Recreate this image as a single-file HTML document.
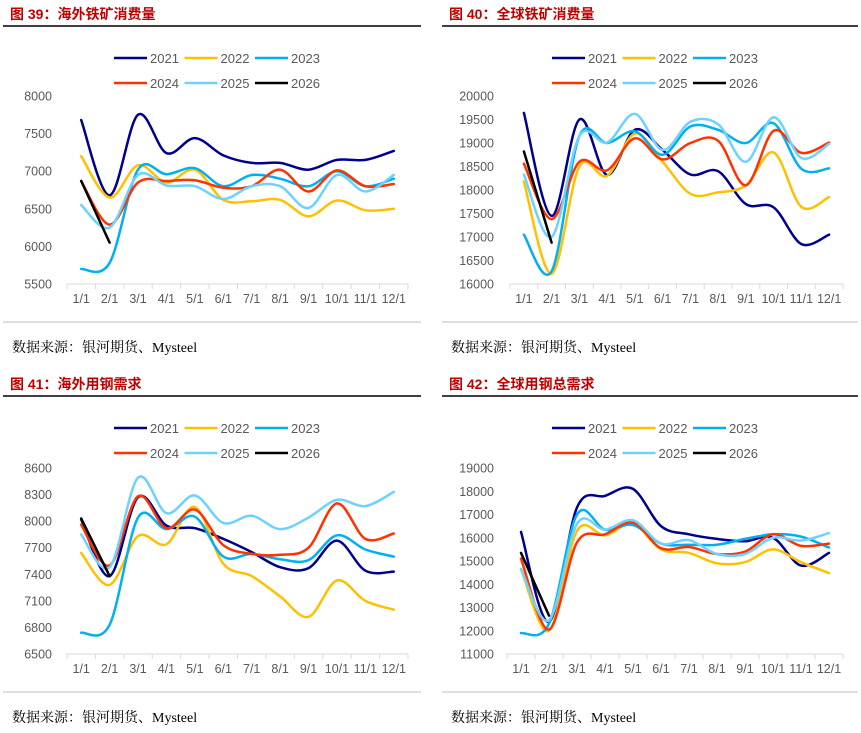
<!DOCTYPE html>
<html><head><meta charset="utf-8"><style>
body{margin:0;background:#fff;}
svg{display:block;font-family:"Liberation Sans","Noto Sans CJK SC",sans-serif;}
</style></head><body>
<svg id="s" width="861" height="733" viewBox="0 0 861 733"></svg>
<script>
const categories=["1/1","2/1","3/1","4/1","5/1","6/1","7/1","8/1","9/1","10/1","11/1","12/1"];
const years=["2021","2022","2023","2024","2025","2026"];
const colors=["#00008E","#FFC000","#00B0F0","#FF3300","#6DD2FF","#000000"];
// Chart 39
const c1Ticks=[5500,6000,6500,7000,7500,8000];
const c1s2021=[7680,6680,7750,7240,7440,7210,7110,7110,7020,7150,7150,7270];
const c1s2022=[7200,6650,7080,6850,7020,6620,6600,6620,6400,6610,6480,6500];
const c1s2023=[5700,5780,7020,6960,7040,6800,6950,6900,6800,7000,6800,6900];
const c1s2024=[6870,6290,6850,6870,6880,6780,6800,7020,6730,7010,6800,6830];
const c1s2025=[6550,6250,6950,6810,6800,6630,6800,6800,6510,6950,6730,6950];
const c1s2026=[6870,6050];
// Chart 40
const c2Ticks=[16000,16500,17000,17500,18000,18500,19000,19500,20000];
const c2s2021=[19640,17450,19500,18320,19280,18850,18330,18400,17700,17630,16850,17050];
const c2s2022=[18180,16220,18500,18300,19200,18600,17920,17950,18100,18800,17640,17850];
const c2s2023=[17050,16270,19150,19000,19250,18750,19350,19280,19000,19420,18450,18460];
const c2s2024=[18560,17380,18600,18420,19100,18650,19000,19050,18100,19260,18790,19010];
const c2s2025=[18330,17000,19150,19010,19620,18850,19450,19400,18600,19550,18680,18980];
const c2s2026=[18820,16880];
// Chart 41
const c3Ticks=[6500,6800,7100,7400,7700,8000,8300,8600];
const c3s2021=[8020,7380,8270,7950,7920,7800,7650,7480,7470,7780,7440,7430];
const c3s2022=[7640,7280,7830,7740,8160,7520,7380,7150,6920,7330,7100,7000];
const c3s2023=[6740,6830,8040,7910,8050,7600,7630,7570,7560,7840,7680,7600];
const c3s2024=[7960,7500,8280,7920,8130,7730,7630,7620,7700,8200,7800,7860];
const c3s2025=[7850,7480,8490,8090,8290,7980,8060,7910,8040,8240,8170,8330];
const c3s2026=[8030,7380];
// Chart 42
const c4Ticks=[11000,12000,13000,14000,15000,16000,17000,18000,19000];
const c4s2021=[16250,12380,17300,17800,18100,16500,16150,15950,15850,16000,14800,15350];
const c4s2022=[14650,12000,16300,16100,16600,15500,15350,14900,14950,15500,14950,14480];
const c4s2023=[11900,12300,17000,16350,16550,15750,15700,15700,15950,16150,16050,15580];
const c4s2024=[15100,12050,15800,16150,16650,15550,15600,15300,15400,16150,15650,15750];
const c4s2025=[14650,12450,16600,16350,16750,15750,15900,15300,15300,16000,15880,16200];
const c4s2026=[15350,12650];

const NS="http://www.w3.org/2000/svg";
const svg=document.getElementById('s');
function mk(tag,attrs,parent,text){const e=document.createElementNS(NS,tag);for(const k in attrs)e.setAttribute(k,attrs[k]);if(text!==undefined)e.textContent=text;(parent||svg).appendChild(e);return e;}

const panels=[
 {title:"图 39：海外铁矿消费量",name:"overseas-ore-consumption",tx:10,ty:19,rx1:3,rx2:421,ry:26,lx:114,ly:58,ylabR:52,x0:67,x1:408,yTop:96,yBot:284,ticks:c1Ticks,series:[c1s2021,c1s2022,c1s2023,c1s2024,c1s2025,c1s2026],sepY:322,srcX:12,srcY:352},
 {title:"图 40：全球铁矿消费量",name:"global-ore-consumption",tx:449,ty:19,rx1:442,rx2:858,ry:26,lx:552,ly:58,ylabR:494,x0:510,x1:843,yTop:96,yBot:284,ticks:c2Ticks,series:[c2s2021,c2s2022,c2s2023,c2s2024,c2s2025,c2s2026],sepY:322,srcX:451,srcY:352},
 {title:"图 41：海外用钢需求",name:"overseas-steel-demand",tx:10,ty:389,rx1:3,rx2:421,ry:396,lx:114,ly:428,ylabR:52,x0:67,x1:408,yTop:468,yBot:654,ticks:c3Ticks,series:[c3s2021,c3s2022,c3s2023,c3s2024,c3s2025,c3s2026],sepY:692,srcX:12,srcY:722},
 {title:"图 42：全球用钢总需求",name:"global-steel-demand",tx:449,ty:389,rx1:442,rx2:858,ry:396,lx:552,ly:428,ylabR:494,x0:507,x1:843,yTop:468,yBot:654,ticks:c4Ticks,series:[c4s2021,c4s2022,c4s2023,c4s2024,c4s2025,c4s2026],sepY:692,srcX:451,srcY:722}
];

function smooth(pts){
 if(pts.length<3)return "M"+pts.map(p=>p[0].toFixed(1)+","+p[1].toFixed(1)).join(" L");
 let d="M"+pts[0][0].toFixed(1)+","+pts[0][1].toFixed(1);
 for(let i=0;i<pts.length-1;i++){
  const p0=pts[i-1]||pts[i],p1=pts[i],p2=pts[i+1],p3=pts[i+2]||p2;
  const c1=[p1[0]+(p2[0]-p0[0])/6,p1[1]+(p2[1]-p0[1])/6];
  const c2=[p2[0]-(p3[0]-p1[0])/6,p2[1]-(p3[1]-p1[1])/6];
  d+=" C"+c1.map(v=>v.toFixed(1)).join(",")+" "+c2.map(v=>v.toFixed(1)).join(",")+" "+p2[0].toFixed(1)+","+p2[1].toFixed(1);
 }
 return d;
}

panels.forEach(p=>{
 const g=mk('g',{});
 
 
 const t=mk('text',{x:p.tx,y:p.ty,fill:'#C00000','font-size':'14','font-weight':'bold'},g,p.title);
 
 
 const r=mk('line',{x1:p.rx1,x2:p.rx2,y1:p.ry,y2:p.ry,stroke:'#000','stroke-width':'1.5'},g);
 
 
 // legend
 years.forEach((y,i)=>{
  const col=i%3,row=Math.floor(i/3);
  const lx=p.lx+col*70.5,ly=p.ly+row*25;
  const lg=mk('g',{},g);
  
  
  mk('line',{x1:lx,x2:lx+33,y1:ly,y2:ly,stroke:colors[i],'stroke-width':'2.5'},lg);
  mk('text',{x:lx+36,y:ly+5,fill:'#595959','font-size':'13'},lg,y);
 });
 const lo=p.ticks[0],hi=p.ticks[p.ticks.length-1];
 const yS=v=>p.yBot-(v-lo)/(hi-lo)*(p.yBot-p.yTop);
 const step=(p.x1-p.x0)/categories.length;
 const xS=i=>p.x0+step*(i+0.5);
 p.ticks.forEach(v=>{
  const tl=mk('text',{x:p.ylabR,y:yS(v)+4.5,'text-anchor':'end',fill:'#595959','font-size':'12.5'},g,String(v));
  
  
 });
 const ax=mk('line',{x1:p.x0,x2:p.x1,y1:p.yBot,y2:p.yBot,stroke:'#D9D9D9','stroke-width':'1'},g);
 
 
 for(let i=0;i<=categories.length;i++){
  mk('line',{x1:p.x0+step*i,x2:p.x0+step*i,y1:p.yBot,y2:p.yBot+5,stroke:'#D9D9D9'},g);
 }
 categories.forEach((c,i)=>{
  const cl=mk('text',{x:xS(i),y:p.yBot+19,'text-anchor':'middle',fill:'#595959','font-size':'12.5'},g,c);
  
  
 });
 p.series.forEach((s,i)=>{
  const pts=s.map((v,j)=>[xS(j),yS(v)]);
  const path=mk('path',{d:smooth(pts),fill:'none',stroke:colors[i],'stroke-width':'2.5','stroke-linejoin':'round','stroke-linecap':'round'},g);
  
  
 });
 const sp=mk('line',{x1:p.rx1,x2:p.rx2,y1:p.sepY,y2:p.sepY,stroke:'#BFBFBF','stroke-width':'1'},g);
 
 
 const src=mk('text',{x:p.srcX,y:p.srcY,fill:'#000','font-size':'14','font-family':'"Liberation Serif","Noto Serif CJK SC",serif'},g,'数据来源：银河期货、Mysteel');
 
 
});
</script>
</body></html>
